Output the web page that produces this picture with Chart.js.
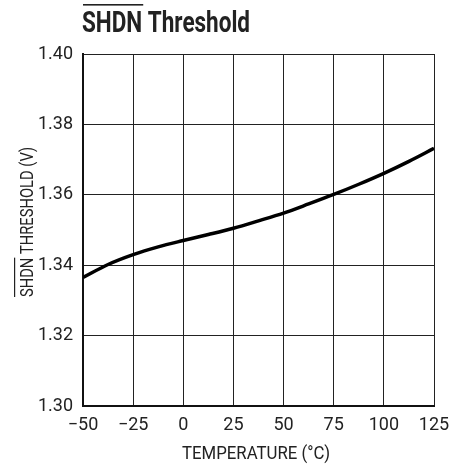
<!DOCTYPE html>
<html>
<head>
<meta charset="utf-8">
<script src="https://cdn.jsdelivr.net/npm/chart.js@4"></script>
<style>
  html, body { margin: 0; padding: 0; background: #fff; }
  #wrap { position: relative; width: 451px; height: 466px; }
</style>
</head>
<body>
<div id="wrap"><canvas id="thresholdChart"></canvas></div>
<script>
const temperatures = [-50, -37.5, -25, -12.5, 0, 12.5, 25, 37.5, 50, 62.5, 75, 87.5, 100, 112.5, 125];
const thresholdVolts = [1.3365, 1.3402, 1.3430, 1.3452, 1.3470, 1.3487, 1.3505, 1.3526, 1.3548, 1.3574, 1.3601, 1.3630, 1.3661, 1.3695, 1.3732];
const xTicks = [-50, -25, 0, 25, 50, 75, 100, 125];
const yTicks = [1.30, 1.32, 1.34, 1.36, 1.38, 1.40];

const FONT = "Roboto, 'Liberation Sans', sans-serif";

// text squeezed to a given width, with a bar over the first word
function overlined(ctx, bar, rest, x, y, size, weight, width) {
    ctx.font = weight + " " + size + "px " + FONT;
    ctx.textBaseline = "alphabetic";
    ctx.textAlign = "left";
    ctx.fillStyle = "#222";
    const k = width / ctx.measureText(bar + rest).width;
    const w = ctx.measureText(bar).width * k;
    ctx.save();
    ctx.translate(x, y);
    ctx.scale(k, 1);
    ctx.fillText(bar + rest, 0, 0);
    ctx.restore();
    return w;
}

const labelsPlugin = {
    id: "labels",
    afterDraw(chart) {
        const ctx = chart.ctx;
        ctx.save();
        let w = overlined(ctx, "SHDN", " Threshold", 82, 32, 30, "bold", 168);
        ctx.fillRect(83, 4, w, 1.6);

        ctx.translate(33, 222);
        ctx.rotate(-Math.PI / 2);
        w = overlined(ctx, "SHDN", " THRESHOLD (V)", -75, 0, 18, "normal", 150);
        ctx.fillRect(-75, -19, w, 1.2);
        ctx.restore();

        ctx.save();
        ctx.font = "18px " + FONT;
        ctx.fillStyle = "#222";
        ctx.textBaseline = "alphabetic";
        const k = 148 / ctx.measureText("TEMPERATURE (\u00B0C)").width;
        ctx.translate(182, 459);
        ctx.scale(k, 1);
        ctx.fillText("TEMPERATURE (\u00B0C)", 0, 0);
        ctx.restore();
    }
};

new Chart(document.getElementById("thresholdChart"), {
    type: "line",
    data: {
        datasets: [{
            data: temperatures.map((t, i) => ({ x: t, y: thresholdVolts[i] })),
            borderColor: "#000",
            borderWidth: 3.5,
            pointRadius: 0,
            tension: 0.4,
            cubicInterpolationMode: "monotone",
            fill: false
        }]
    },
    options: {
        responsive: true,
        maintainAspectRatio: false,
        animation: false,
        layout: { padding: { top: 54, right: 17, left: 0, bottom: 0 } },
        plugins: { legend: { display: false }, tooltip: { enabled: false } },
        scales: {
            x: {
                type: "linear",
                min: -50,
                max: 125,
                afterBuildTicks: (s) => { s.ticks = xTicks.map(v => ({ value: v })); },
                afterFit: (s) => { s.height = 60; s.paddingLeft = 0; s.paddingRight = 0; },
                ticks: {
                    color: "#222",
                    padding: 9,
                    maxRotation: 0,
                    font: { family: FONT, size: 18 },
                    callback: (v) => String(v).replace("-", "\u2212")
                },
                grid: { color: "#222", lineWidth: 1, drawTicks: false },
                border: { color: "#111", width: 2 }
            },
            y: {
                min: 1.30,
                max: 1.40,
                afterBuildTicks: (s) => { s.ticks = yTicks.map(v => ({ value: v })); },
                afterFit: (s) => { s.width = 83; },
                ticks: {
                    color: "#222",
                    padding: 10,
                    font: { family: FONT, size: 18 },
                    callback: (v) => v.toFixed(2)
                },
                grid: { color: "#222", lineWidth: 1, drawTicks: false },
                border: { color: "#111", width: 2 }
            }
        }
    },
    plugins: [labelsPlugin]
});
</script>
</body>
</html>
